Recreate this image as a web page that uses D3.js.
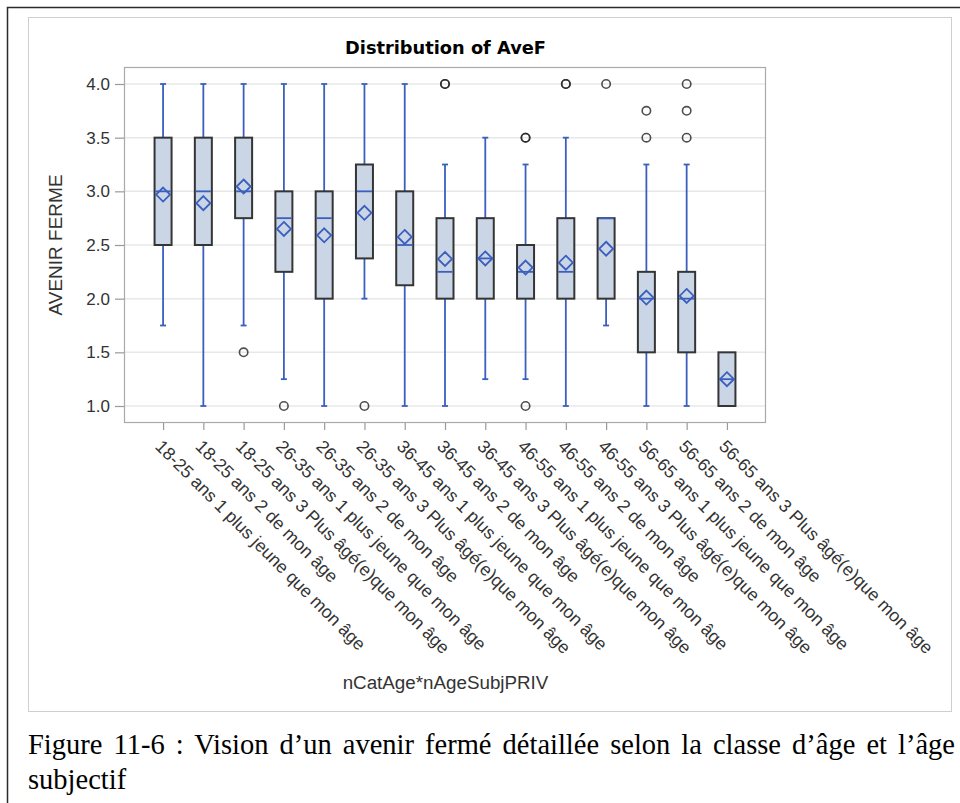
<!DOCTYPE html>
<html>
<head>
<meta charset="utf-8">
<script src="https://cdn.jsdelivr.net/npm/d3@7"></script>
<style>
  html, body { margin: 0; padding: 0; background: #fff; }
  svg { display: block; }
</style>
</head>
<body>
<svg id="chart" width="960" height="803"></svg>
<script>
// ---------------- DATA ----------------
const categories = [
  "18-25 ans 1 plus jeune que mon âge",
  "18-25 ans 2 de mon âge",
  "18-25 ans 3 Plus âgé(e)que mon âge",
  "26-35 ans 1 plus jeune que mon âge",
  "26-35 ans 2 de mon âge",
  "26-35 ans 3 Plus âgé(e)que mon âge",
  "36-45 ans 1 plus jeune que mon âge",
  "36-45 ans 2 de mon âge",
  "36-45 ans 3 Plus âgé(e)que mon âge",
  "46-55 ans 1 plus jeune que mon âge",
  "46-55 ans 2 de mon âge",
  "46-55 ans 3 Plus âgé(e)que mon âge",
  "56-65 ans 1 plus jeune que mon âge",
  "56-65 ans 2 de mon âge",
  "56-65 ans 3 Plus âgé(e)que mon âge"
];
const whiskerLow  = [1.75, 1.0, 1.75, 1.25, 1.0, 2.0,   1.0,   1.0,  1.25,  1.25, 1.0,  1.75, 1.0,  1.0,  1.0];
const q1          = [2.5,  2.5, 2.75, 2.25, 2.0, 2.375, 2.125, 2.0,  2.0,   2.0,  2.0,  2.0,  1.5,  1.5,  1.0];
const median      = [3.0,  3.0, 3.0,  2.75, 2.75,3.0,   2.5,   2.25, 2.375, 2.25, 2.25, 2.75, 2.0,  2.0,  1.25];
const q3          = [3.5,  3.5, 3.5,  3.0,  3.0, 3.25,  3.0,   2.75, 2.75,  2.5,  2.75, 2.75, 2.25, 2.25, 1.5];
const whiskerHigh = [4.0,  4.0, 4.0,  4.0,  4.0, 4.0,   4.0,   3.25, 3.5,   3.25, 3.5,  2.75, 3.25, 3.25, 1.5];
const means       = [2.97, 2.89,3.045,2.65, 2.59,2.80,  2.575, 2.37, 2.375, 2.29, 2.335,2.465,2.01, 2.025,1.25];
const outliers    = [
  [], [], [1.5], [1.0], [], [1.0], [],
  [4.0, 4.0], [], [3.5, 3.5, 1.0], [4.0, 4.0], [4.0],
  [3.5, 3.75], [3.5, 3.75, 4.0], []
];
const yTicks = [1.0, 1.5, 2.0, 2.5, 3.0, 3.5, 4.0];
const chartTitle = "Distribution of AveF";
const yLabel = "AVENIR FERME";
const xLabel = "nCatAge*nAgeSubjPRIV";
const captionLine1 = "Figure 11-6 : Vision d’un avenir fermé détaillée selon la classe d’âge et l’âge";
const captionLine2 = "subjectif";

// ---------------- LAYOUT ----------------
const svg = d3.select("#chart");
const plot = { left: 124, right: 766, top: 67, bottom: 423 };
const sans = "'Liberation Sans', Arial, sans-serif";

const x = d3.scalePoint().domain(categories).range([plot.left, plot.right]).padding(0.97);
const y = d3.scaleLinear().domain([1, 4]).range([406, 84]);

// outer document frame
svg.append("path")
  .attr("d", "M7.5,803 L7.5,7.5 L960,7.5")
  .attr("fill", "none").attr("stroke", "#2b2b2b").attr("stroke-width", 1.5);

// image border
svg.append("rect")
  .attr("x", 28.5).attr("y", 17.5).attr("width", 923).attr("height", 694)
  .attr("fill", "#fff").attr("stroke", "#cfcfcf").attr("stroke-width", 1);

// grid lines
svg.append("g").selectAll("line").data(yTicks).join("line")
  .attr("x1", plot.left).attr("x2", plot.right)
  .attr("y1", d => y(d)).attr("y2", d => y(d))
  .attr("stroke", "#e8e8e8").attr("stroke-width", 1.5);

// plot border
svg.append("rect")
  .attr("x", plot.left + 0.5).attr("y", plot.top + 0.5)
  .attr("width", plot.right - plot.left - 1).attr("height", plot.bottom - plot.top - 1)
  .attr("fill", "none").attr("stroke", "#a9a9a9").attr("stroke-width", 1.2);

// y axis
const yAxis = svg.append("g")
  .attr("transform", `translate(${plot.left},0)`)
  .call(d3.axisLeft(y).tickValues(yTicks).tickFormat(d3.format(".1f")).tickSize(9).tickPadding(5));
yAxis.select(".domain").remove();
yAxis.selectAll(".tick line").attr("stroke", "#9a9a9a").attr("stroke-width", 1.2);
yAxis.selectAll(".tick text")
  .attr("font-family", sans).attr("font-size", 17).attr("fill", "#333");

// x axis
const xAxis = svg.append("g")
  .attr("transform", `translate(0,${plot.bottom})`)
  .call(d3.axisBottom(x).tickSize(7));
xAxis.select(".domain").remove();
xAxis.selectAll(".tick line").attr("stroke", "#9a9a9a").attr("stroke-width", 1.2);
xAxis.selectAll(".tick text")
  .attr("x", 0).attr("y", 0).attr("dy", "0.35em")
  .attr("text-anchor", "start")
  .attr("transform", "translate(-5,20) rotate(45)")
  .attr("font-family", sans).attr("font-size", 17.8).attr("fill", "#333");

// boxes
const boxW = 17, capW = 6;
const blue = "#3a5fbf";
const data = categories.map((c, i) => ({
  c, lo: whiskerLow[i], q1: q1[i], med: median[i], q3: q3[i], hi: whiskerHigh[i],
  mean: means[i], out: outliers[i]
}));

const g = svg.append("g");
const bx = g.selectAll("g.box").data(data).join("g").attr("class", "box")
  .attr("transform", d => `translate(${x(d.c)},0)`);

const ws = 1.8;
// whiskers
bx.filter(d => d.hi > d.q3).append("line")
  .attr("x1", 0).attr("x2", 0).attr("y1", d => y(d.q3)).attr("y2", d => y(d.hi))
  .attr("stroke", blue).attr("stroke-width", ws);
bx.filter(d => d.hi > d.q3).append("line")
  .attr("x1", -capW / 2).attr("x2", capW / 2).attr("y1", d => y(d.hi)).attr("y2", d => y(d.hi))
  .attr("stroke", blue).attr("stroke-width", ws);
bx.filter(d => d.lo < d.q1).append("line")
  .attr("x1", 0).attr("x2", 0).attr("y1", d => y(d.q1)).attr("y2", d => y(d.lo))
  .attr("stroke", blue).attr("stroke-width", ws);
bx.filter(d => d.lo < d.q1).append("line")
  .attr("x1", -capW / 2).attr("x2", capW / 2).attr("y1", d => y(d.lo)).attr("y2", d => y(d.lo))
  .attr("stroke", blue).attr("stroke-width", ws);

// box body
bx.append("rect")
  .attr("x", -boxW / 2).attr("width", boxW)
  .attr("y", d => y(d.q3)).attr("height", d => y(d.q1) - y(d.q3))
  .attr("fill", "#cad5e6").attr("stroke", "#353535").attr("stroke-width", 2);

// median
bx.append("line")
  .attr("x1", -boxW / 2 + 1).attr("x2", boxW / 2 - 1)
  .attr("y1", d => y(d.med)).attr("y2", d => y(d.med))
  .attr("stroke", blue).attr("stroke-width", 1.8);

// mean diamond
const dm = 7;
bx.append("path")
  .attr("d", d => { const cy = y(d.mean); return `M0,${cy - dm} L${dm},${cy} L0,${cy + dm} L${-dm},${cy} Z`; })
  .attr("fill", "none").attr("stroke", blue).attr("stroke-width", 1.8);

// outliers
bx.selectAll("circle").data(d => d.out).join("circle")
  .attr("cx", 0).attr("cy", v => y(v)).attr("r", 4.2)
  .attr("fill", "none").attr("stroke", "#222").attr("stroke-width", 1.6).attr("stroke-opacity", 0.8);

// title
svg.append("text")
  .attr("x", 445.5).attr("y", 54).attr("text-anchor", "middle")
  .attr("font-family", "'DejaVu Sans', Verdana, sans-serif").attr("font-weight", "bold")
  .attr("font-size", 17.8).attr("fill", "#000").text(chartTitle);

// y label
svg.append("text")
  .attr("transform", "translate(62,245) rotate(-90)")
  .attr("text-anchor", "middle")
  .attr("font-family", sans).attr("font-size", 19).attr("fill", "#333").text(yLabel);

// x label
svg.append("text")
  .attr("x", 445.5).attr("y", 689).attr("text-anchor", "middle")
  .attr("font-family", sans).attr("font-size", 18.8).attr("fill", "#333").text(xLabel);

// caption (justified first line)
const serif = "'Liberation Serif', 'Times New Roman', serif";
const capSize = 28.5;
const cap1 = svg.append("text")
  .attr("x", 28).attr("y", 754)
  .attr("font-family", serif).attr("font-size", capSize).attr("fill", "#000").text(captionLine1);
const targetW = 927;
const w1 = cap1.node().getComputedTextLength();
const nSpaces = captionLine1.split(" ").length - 1;
cap1.attr("word-spacing", Math.max(0, (targetW - w1) / nSpaces));
svg.append("text")
  .attr("x", 28).attr("y", 789)
  .attr("font-family", serif).attr("font-size", capSize).attr("fill", "#000").text(captionLine2);
</script>
</body>
</html>
